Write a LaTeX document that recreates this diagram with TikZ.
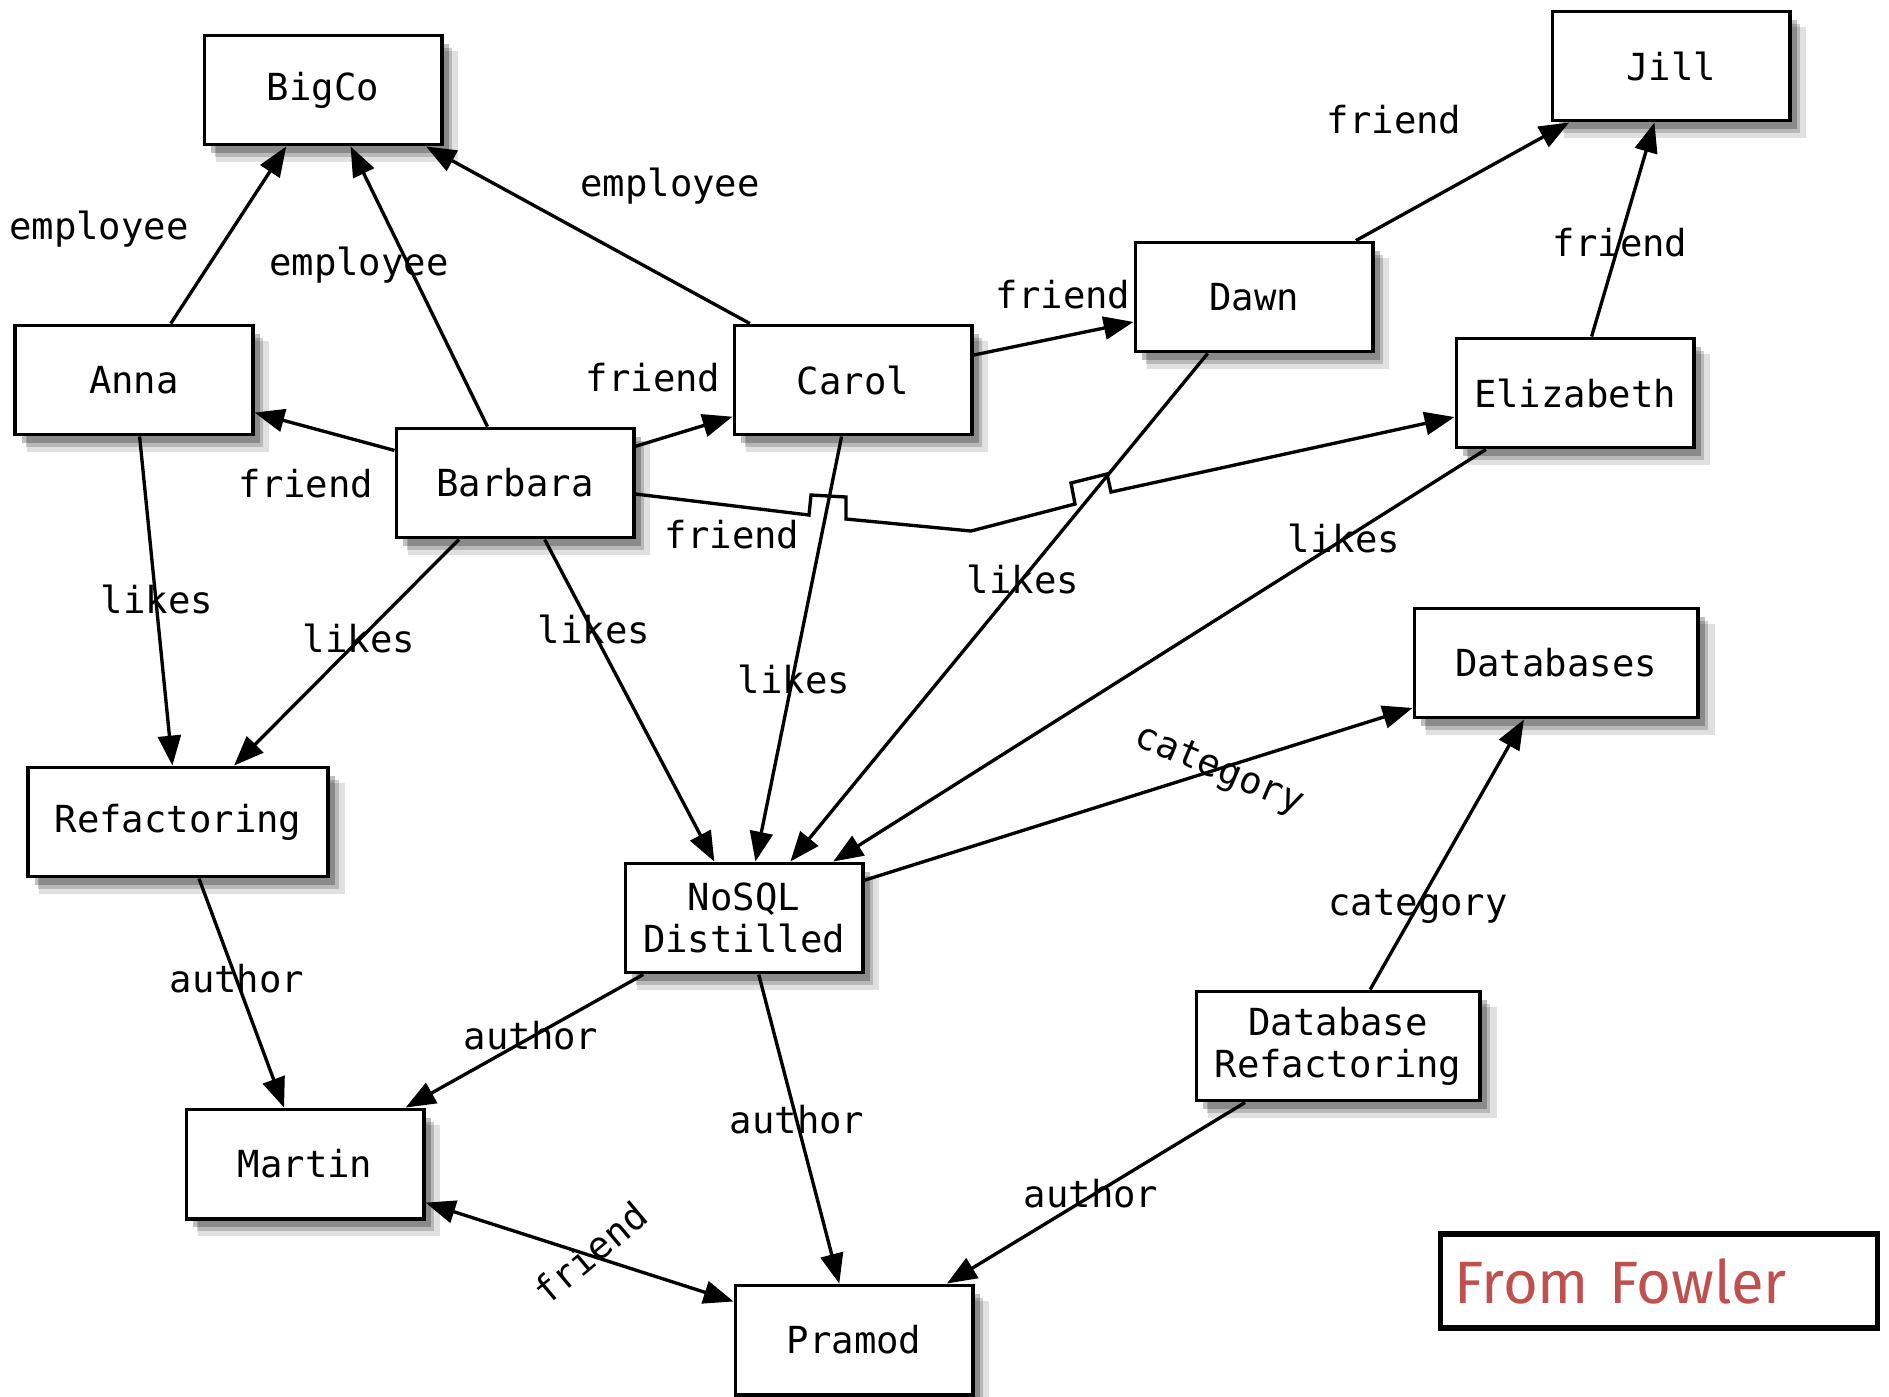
\documentclass[tikz,border=0pt]{standalone}
\usepackage{fontspec}
\setmonofont{DejaVu Sans Mono}
\setsansfont{Fira Sans}
\usetikzlibrary{arrows.meta,shadows}
\definecolor{fowlerred}{HTML}{C0504D}

\begin{document}
\begin{tikzpicture}[x=0.01cm, y=-0.01cm]
\tikzstyle{entity} = [draw, line width=1.1pt, fill=white, minimum width=2.37cm, minimum height=1.09cm, inner sep=2pt, align=center, font=\ttfamily\fontsize{10.6}{12}\selectfont,
  general shadow={fill=black, opacity=0.12, shadow xshift=4pt, shadow yshift=-4.5pt, shadow scale=1.02},
  general shadow={fill=black, opacity=0.18, shadow xshift=3pt, shadow yshift=-3.5pt},
  general shadow={fill=black, opacity=0.25, shadow xshift=2pt, shadow yshift=-2.5pt}]
\tikzstyle{wide} = [minimum width=2.83cm]
\tikzstyle{edge} = [draw, line width=0.95pt, -{Triangle[length=8.5pt, width=6.5pt]}]
\tikzstyle{lbl} = [font=\ttfamily\fontsize{10.6}{12}\selectfont, inner sep=0pt]
\useasboundingbox (0,0) rectangle (1889,1396);
\node[entity] (bigco) at (323, 90) {BigCo};
\node[entity] (jill) at (1671, 66) {Jill};
\node[entity] (anna) at (134, 380) {Anna};
\node[entity] (barbara) at (515, 483) {Barbara};
\node[entity] (carol) at (853, 380) {Carol};
\node[entity] (dawn) at (1254, 297) {Dawn};
\node[entity] (elizabeth) at (1575, 393) {Elizabeth};
\node[entity, wide] (databases) at (1556, 663) {Databases};
\node[entity, minimum width=3.0cm] (refactoring) at (178, 822) {Refactoring};
\node[entity] (nosql) at (744, 918) {NoSQL\\Distilled};
\node[entity, wide] (dbrefactoring) at (1338, 1046) {Database\\Refactoring};
\node[entity] (martin) at (305, 1164) {Martin};
\node[entity] (pramod) at (854, 1340) {Pramod};
\draw[edge] (anna) -- (bigco);
\draw[edge] (barbara) -- (bigco);
\draw[edge] (carol) -- (bigco);
\draw[edge] (dawn) -- (jill);
\draw[edge] (elizabeth) -- (jill);
\draw[edge] (carol) -- (dawn);
\draw[edge] (barbara) -- (carol);
\draw[edge] (barbara) -- (anna);
\draw[edge] ([yshift=-0.11cm]barbara.east) -- (809, 515) -- ++(2, -20) -- ++(35, 2) -- ++(0, 22)
  -- (971, 531) -- (1075, 504) -- ++(-4, -21) -- ++(36, -9) -- ++(4, 18) -- ([yshift=-0.24cm]elizabeth.west);
\draw[edge] (anna) -- (refactoring);
\draw[edge] (barbara) -- (refactoring);
\draw[edge] (barbara) -- (nosql);
\draw[edge] (carol) -- (nosql);
\draw[edge] (dawn) -- (nosql);
\draw[edge] (elizabeth) -- (nosql);
\draw[edge] (nosql) -- (databases);
\draw[edge] (dbrefactoring) -- (databases);
\draw[edge] (refactoring) -- (martin);
\draw[edge] (nosql) -- (martin);
\draw[edge] (nosql) -- (pramod);
\draw[edge] (dbrefactoring) -- (pramod);
\draw[edge, {Triangle[length=8.5pt, width=6.5pt]}-{Triangle[length=8.5pt, width=6.5pt]}] (martin) -- (pramod);
\node[lbl] (l1) at (99, 229) {employee};
\node[lbl] (l2) at (359, 265) {employee};
\node[lbl] (l3) at (670, 186) {employee};
\node[lbl] (l4) at (1394, 120) {friend};
\node[lbl] (l5) at (1620, 243) {friend};
\node[lbl] (l6) at (1063, 295) {friend};
\node[lbl] (l7) at (653, 378) {friend};
\node[lbl] (l8) at (306, 484) {friend};
\node[lbl] (l9) at (732, 535) {friend};
\node[lbl] (l10) at (157, 599) {likes};
\node[lbl] (l11) at (359, 638) {likes};
\node[lbl] (l12) at (594, 629) {likes};
\node[lbl] (l13) at (794, 679) {likes};
\node[lbl] (l14) at (1023, 579) {likes};
\node[lbl] (l15) at (1344, 538) {likes};
\node[lbl, rotate=-23] (l16) at (1219, 771) {category};
\node[lbl] (l17) at (1418, 906) {category};
\node[lbl] (l18) at (237, 979) {author};
\node[lbl] (l19) at (531, 1036) {author};
\node[lbl] (l20) at (797, 1120) {author};
\node[lbl] (l21) at (1091, 1194) {author};
\node[lbl, rotate=40] (l22) at (590, 1253) {friend};
\node[draw, line width=1.5pt, minimum width=4.37cm, minimum height=0.94cm, inner xsep=0.14cm, text width=4.09cm, align=left, text=fowlerred, font=\sffamily\fontsize{17}{20}\selectfont] (fowler) at (1659, 1281) {From Fowler};
\end{tikzpicture}
\end{document}
